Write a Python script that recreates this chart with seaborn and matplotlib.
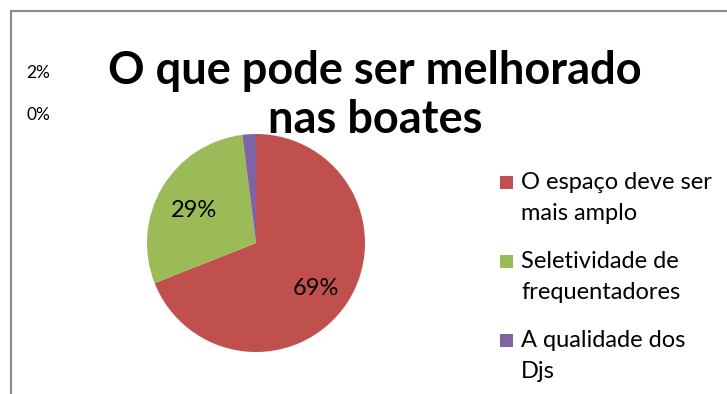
import math
import matplotlib
matplotlib.use("Agg")
import matplotlib.pyplot as plt
from matplotlib.lines import Line2D
from matplotlib.patches import Rectangle
import seaborn as sns

# Survey answers: what could be improved in the nightclubs
categories = ["O espaço deve ser\nmais amplo",
              "Seletividade de\nfrequentadores",
              "A qualidade dos\nDjs",
              "Outros"]
shares = [69, 29, 2, 0]
slice_colors = ["#C0504D", "#9BBB59", "#8064A2", "#4F81BD"]
title = "O que pode ser melhorado\nnas boates"

sns.set_theme(style="white")
plt.rcParams["font.family"] = ["Lato", "DejaVu Sans"]

W, H = 727, 394
fig = plt.figure(figsize=(W / 100, H / 100), dpi=100)
fig.patch.set_facecolor("white")

# pie axes: centre (256, 243) px, radius 109 px
cx, cy, r = 256, 243, 109
ax = fig.add_axes([(cx - r) / W, (H - cy - r) / H, 2 * r / W, 2 * r / H])
wedges, _ = ax.pie(shares, colors=slice_colors, startangle=90,
                   counterclock=False, radius=1.0,
                   wedgeprops=dict(linewidth=0))
ax.set_xlim(-1, 1)
ax.set_ylim(-1, 1)
ax.set_aspect("equal")
ax.axis("off")

# percentage labels inside the big slices, outside for the small ones
total = sum(shares)
start = 90.0
outside = []
for val in shares:
    sweep = 360.0 * val / total
    mid = math.radians(start - sweep / 2)
    start -= sweep
    if val / total >= 0.1:
        ax.text(0.66 * math.cos(mid), 0.67 * math.sin(mid) - 0.02, f"{val}%",
                ha="center", va="center_baseline", fontsize=17, color="black")
    else:
        outside.append(val)
for i, val in enumerate(outside):
    fig.text(38 / W, 1 - (71 + 42 * i) / H, f"{val}%", ha="center",
             va="center_baseline", fontsize=12.5, color="black")

fig.text(375 / W, 1 - 50 / H, title, ha="center", va="top",
         fontsize=32.5, fontweight="bold", color="black", linespacing=1.21)

# legend: colour square beside the first line of each wrapped label,
# every line placed on its own baseline
first_baseline = [189, 268, 347]
line_step = 31
for label, color, yb in zip(categories[:3], slice_colors[:3], first_baseline):
    fig.add_artist(Rectangle((500 / W, 1 - yb / H), 13 / W, 13 / H,
                             transform=fig.transFigure, facecolor=color,
                             edgecolor="none"))
    for k, line in enumerate(label.split("\n")):
        fig.text(521 / W, 1 - (yb + k * line_step) / H, line, ha="left",
                 va="baseline", fontsize=17, color="black")

# frame lines along the top and left edges
fig.add_artist(Line2D([11 / W, 1], [1 - 11 / H] * 2, color="#8C8C8C", lw=1.6))
fig.add_artist(Line2D([11 / W] * 2, [0, 1 - 11 / H], color="#8C8C8C", lw=1.6))

fig.savefig("out.png", dpi=100)
